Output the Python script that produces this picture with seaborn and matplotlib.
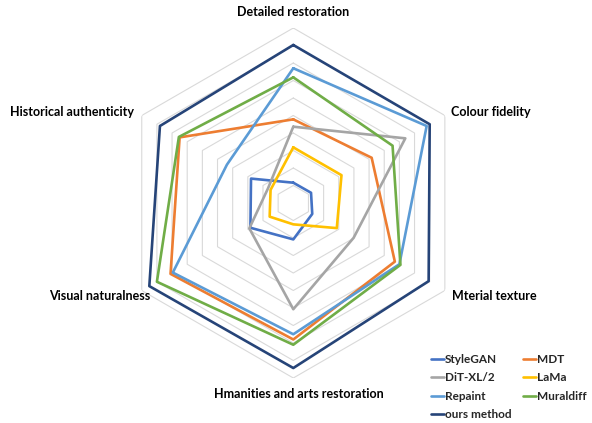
import numpy as np
import pandas as pd
import matplotlib
matplotlib.use("Agg")
import matplotlib.pyplot as plt
import seaborn as sns
from matplotlib.lines import Line2D

categories = ["Detailed restoration", "Colour fidelity", "Mterial texture",
              "Hmanities and arts restoration", "Visual naturalness", "Historical authenticity"]

series_names = ["StyleGAN", "MDT", "DiT-XL/2", "LaMa", "Repaint", "Muraldiff", "ours method"]
stylegan = [1.16, 1.17, 1.25, 2.08, 2.83, 2.79]
mdt = [4.78, 5.17, 6.70, 7.80, 8.10, 7.50]
dit = [4.36, 7.39, 3.98, 6.07, 2.90, 1.67]
lama = [3.18, 3.18, 2.87, 1.22, 1.56, 1.50]
repaint = [7.70, 8.80, 7.00, 7.50, 7.95, 4.38]
muraldiff = [7.18, 6.55, 7.07, 8.10, 9.00, 7.55]
ours = [9.03, 9.00, 8.93, 9.43, 9.50, 8.80]

colors = {"StyleGAN": "#4472C4", "MDT": "#ED7D31", "DiT-XL/2": "#A5A5A5", "LaMa": "#FFC000",
          "Repaint": "#5B9BD5", "Muraldiff": "#70AD47", "ours method": "#264478"}

values = [stylegan, mdt, dit, lama, repaint, muraldiff, ours]
n = len(categories)
angles = np.linspace(0, 2 * np.pi, n, endpoint=False)

rows = []
for name, vals in zip(series_names, values):
    for i in range(n + 1):
        rows.append({"series": name, "theta": angles[i % n], "value": vals[i % n], "order": i})
df = pd.DataFrame(rows)

sns.set_style("white")
plt.rcParams["font.family"] = ["Lato", "DejaVu Sans"]

fig = plt.figure(figsize=(5.92, 4.23), dpi=100)
W, H = 592, 423
cx, cy, R = 293.3, 203.0, 175.0
ax = fig.add_axes([(cx - R) / W, (H - cy - R) / H, 2 * R / W, 2 * R / H], projection="polar")
ax.set_theta_zero_location("N")
ax.set_theta_direction(-1)
ax.set_ylim(0, 10)
ax.grid(False)
ax.spines["polar"].set_visible(False)
ax.set_xticks([])
ax.set_yticks([])
ax.patch.set_alpha(0)

# hexagonal grid rings
for k in range(1, 11):
    th = np.append(angles, angles[0])
    ax.plot(th, [k] * (n + 1), color="#D9D9D9", lw=0.8, zorder=1)

for idx, name in enumerate(series_names):
    sub = df[df["series"] == name]
    sns.lineplot(data=sub, x="theta", y="value", sort=False, estimator=None,
                 color=colors[name], lw=1.9, ax=ax, zorder=3 + idx, legend=False)
ax.set_xlabel("")
ax.set_ylabel("")
ax.set_ylim(0, 10)
ax.set_xticks([])
ax.set_yticks([])

fs = 9.0
kw = dict(fontsize=fs, fontweight="bold", color="#000000")
def ftext(x, y, s, ha, va="center"):
    fig.text(x / W, 1 - y / H, s, ha=ha, va=va, **kw)

ftext(293, 12, categories[0], "center")
ftext(451, 112, categories[1], "left")
ftext(452, 296, categories[2], "left")
ftext(299, 394, categories[3], "center")
ftext(150, 296, categories[4], "right")
ftext(134, 112, categories[5], "right")

order = ["StyleGAN", "DiT-XL/2", "Repaint", "ours method", "MDT", "LaMa", "Muraldiff"]
handles = [Line2D([0], [0], color=colors[s], lw=1.9) for s in order]
leg = fig.legend(handles, order, loc="upper left", bbox_to_anchor=(426 / W, 1 - 349 / H),
                 ncol=2, frameon=False, fontsize=8.5, handlelength=1.1,
                 handletextpad=0.1, columnspacing=0.95, labelspacing=0.64, borderaxespad=0)
for t in leg.get_texts():
    t.set_fontweight("bold")

fig.savefig("out.png", dpi=100)
